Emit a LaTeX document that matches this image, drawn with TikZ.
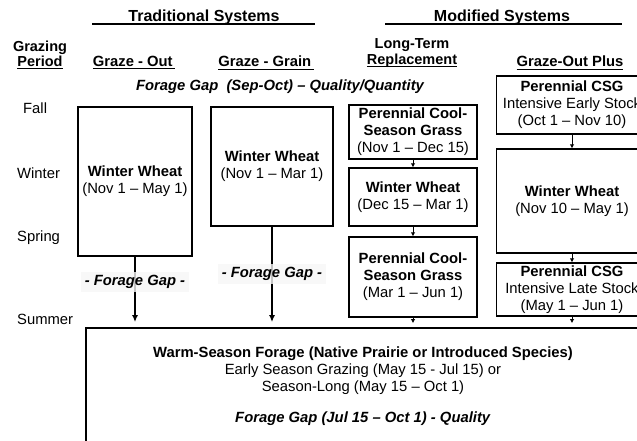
\documentclass[tikz,border=0pt]{standalone}
\usepackage{amsmath}
\usepackage{fontspec}
\setmainfont{Liberation Sans}
\usepackage{tikz}
\usepackage{xcolor}
\usetikzlibrary{positioning, arrows.meta, calc}
\definecolor{mGap}{HTML}{F6F6F6}
\newcommand{\bodyfont}{\fontsize{14.8}{17}\selectfont}
\newcommand{\ulx}[1]{\underline{\smash[b]{#1}}}
\tikzset{
  box/.style={draw, line width=1.3pt, align=center, inner sep=1pt},
  flow/.style={-{Latex[length=7pt,width=6pt]}, line width=1.5pt},
  link/.style={-{Latex[length=4pt,width=4.5pt]}, line width=1pt},
  season/.style={anchor=west, inner sep=0pt},
  gaplbl/.style={fill=mGap, fill opacity=0.8, text opacity=1,
    font=\bodyfont\bfseries\itshape, inner xsep=4pt, inner ysep=3pt},
}

\begin{document}
\begin{tikzpicture}[x=1pt, y=-1pt, font=\bodyfont]
    \useasboundingbox (0,0) rectangle (637,440);
    % headings
    \node[font={\fontsize{16}{18}\selectfont\bfseries}] (trad) at (204,17) {Traditional Systems};
    \node[font={\fontsize{16}{18}\selectfont\bfseries}] (modi) at (502,17) {Modified Systems};
    \draw[line width=1.2pt] (92,24) -- (315,24);
    \draw[line width=1.2pt] (385,24) -- (622,24);
    \node[font={\fontsize{14.5}{15}\selectfont\bfseries}, align=center] (period) at (40,55) {Grazing\\\ulx{Period}};
    \node[font=\bodyfont\bfseries] (gout) at (134,63) {\ulx{Graze - Out\,}};
    \node[font=\bodyfont\bfseries] (ggrain) at (266,63) {\ulx{Graze - Grain\,}};
    \node[font={\fontsize{14.5}{16}\selectfont\bfseries}, align=center] (ltr) at (412,53) {Long-Term\\\ulx{Replacement}};
    \node[font=\bodyfont\bfseries] (gplus) at (570,63) {\ulx{Graze-Out Plus}};
    \node[font=\bodyfont\bfseries\itshape] (gapsep) at (280,87) {Forage Gap~~(Sep-Oct) -- Quality/Quantity};
    % seasons
    \node[season] (fall) at (23,108) {Fall};
    \node[season] (winter) at (17,173) {Winter};
    \node[season] (spring) at (17,238) {Spring};
    \node[season] (summer) at (17,319) {Summer};
    % traditional
    \node[box, minimum width=114, minimum height=149] (ww1) at (135,181.5)
      {\textbf{Winter Wheat}\\(Nov 1 -- May 1)};
    \node[box, minimum width=122, minimum height=119] (ww2) at (272,166.5)
      {\textbf{Winter Wheat}\\(Nov 1 -- Mar 1)};
    % modified
    \node[box, minimum width=128, minimum height=54] (pcs1) at (413,132)
      {\textbf{Perennial Cool-}\\\textbf{Season Grass}\\(Nov 1 -- Dec 15)};
    \node[box, minimum width=128, minimum height=58] (ww3) at (413,197)
      {\textbf{Winter Wheat}\\(Dec 15 -- Mar 1)};
    \node[box, minimum width=128, minimum height=80] (pcs2) at (413,277)
      {\textbf{Perennial Cool-}\\\textbf{Season Grass}\\(Mar 1 -- Jun 1)};
    \node[box, minimum width=151, minimum height=58] (csg1) at (572,105)
      {\textbf{Perennial CSG}\\Intensive Early Stock\\(Oct 1 -- Nov 10)};
    \node[box, minimum width=151, minimum height=104] (ww4) at (572,201)
      {\textbf{Winter Wheat}\\(Nov 10 -- May 1)};
    \node[box, minimum width=151, minimum height=53] (csg2) at (572,289.5)
      {\textbf{Perennial CSG}\\Intensive Late Stock\\(May 1 -- Jun 1)};
    % summer
    \node[box, line width=1.8pt, minimum width=554, minimum height=117] (warm) at (363,386.5)
      {\textbf{Warm-Season Forage (Native Prairie or Introduced Species)}\\
       Early Season Grazing (May 15 - Jul 15) or\\
       Season-Long (May 15 -- Oct 1)\\[14pt]
       \textbf{\itshape Forage Gap (Jul 15 -- Oct 1) - Quality}};
    % arrows
    \draw[flow, shorten >=5pt] (ww1) -- (ww1 |- warm.north);
    \draw[flow, shorten >=5pt] (ww2) -- (ww2 |- warm.north);
    \draw[link] (pcs1) -- (ww3);
    \draw[link] (ww3) -- (pcs2);
    \draw[link, shorten >=4pt] (pcs2) -- (pcs2 |- warm.north);
    \draw[link] (csg1) -- (ww4);
    \draw[link] (ww4) -- (csg2);
    \draw[link, shorten >=4pt] (csg2) -- (csg2 |- warm.north);
    \node[gaplbl] (gap1) at (135,282) {- Forage Gap -};
    \node[gaplbl] (gap2) at (272,274) {- Forage Gap -};
\end{tikzpicture}
\end{document}
